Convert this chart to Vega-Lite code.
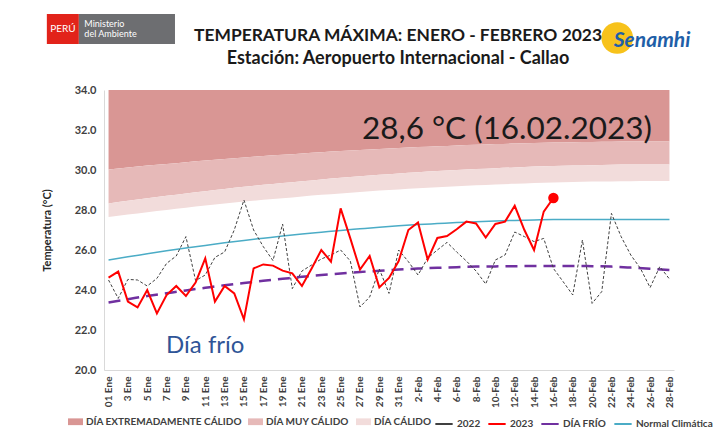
{
  "$schema": "https://vega.github.io/schema/vega-lite/v6.json",
  "width": 570,
  "height": 280,
  "autosize": "none",
  "padding": {"left": 104, "top": 90, "right": 54, "bottom": 64},
  "background": "white",
  "config": {"view": {"stroke": null}, "font": "Lato", "axis": {"labelOverlap": false, "labelFlush": false}},
  "title": {
    "text": "TEMPERATURA MÁXIMA:  ENERO - FEBRERO 2023",
    "subtitle": "Estación: Aeropuerto Internacional - Callao",
    "font": "Lato", "fontSize": 17.4, "fontWeight": "bold", "color": "#1a1a1a",
    "subtitleFont": "Lato", "subtitleFontSize": 18, "subtitleFontWeight": "bold", "subtitleColor": "#1a1a1a",
    "anchor": "middle", "offset": -54, "dx": 9, "subtitlePadding": 6
  },
  "datasets": {
    "curvas": [
      {"dia": 0, "calido": 27.65, "muy": 28.33, "extremo": 30.03, "normal": 25.50, "frio": 23.38},
      {"dia": 2, "calido": 27.77, "muy": 28.46, "extremo": 30.13, "normal": 25.66, "frio": 23.54},
      {"dia": 4, "calido": 27.89, "muy": 28.59, "extremo": 30.22, "normal": 25.81, "frio": 23.70},
      {"dia": 6, "calido": 28.00, "muy": 28.71, "extremo": 30.30, "normal": 25.96, "frio": 23.84},
      {"dia": 8, "calido": 28.11, "muy": 28.83, "extremo": 30.39, "normal": 26.10, "frio": 23.98},
      {"dia": 10, "calido": 28.22, "muy": 28.94, "extremo": 30.47, "normal": 26.23, "frio": 24.11},
      {"dia": 12, "calido": 28.32, "muy": 29.05, "extremo": 30.55, "normal": 26.36, "frio": 24.24},
      {"dia": 14, "calido": 28.42, "muy": 29.16, "extremo": 30.63, "normal": 26.48, "frio": 24.35},
      {"dia": 16, "calido": 28.51, "muy": 29.26, "extremo": 30.70, "normal": 26.59, "frio": 24.46},
      {"dia": 18, "calido": 28.59, "muy": 29.35, "extremo": 30.76, "normal": 26.70, "frio": 24.56},
      {"dia": 20, "calido": 28.68, "muy": 29.44, "extremo": 30.83, "normal": 26.80, "frio": 24.66},
      {"dia": 22, "calido": 28.76, "muy": 29.53, "extremo": 30.89, "normal": 26.89, "frio": 24.75},
      {"dia": 24, "calido": 28.83, "muy": 29.61, "extremo": 30.95, "normal": 26.98, "frio": 24.82},
      {"dia": 26, "calido": 28.90, "muy": 29.69, "extremo": 31.00, "normal": 27.06, "frio": 24.90},
      {"dia": 28, "calido": 28.97, "muy": 29.76, "extremo": 31.05, "normal": 27.14, "frio": 24.96},
      {"dia": 30, "calido": 29.03, "muy": 29.83, "extremo": 31.10, "normal": 27.21, "frio": 25.02},
      {"dia": 32, "calido": 29.09, "muy": 29.89, "extremo": 31.15, "normal": 27.27, "frio": 25.07},
      {"dia": 34, "calido": 29.14, "muy": 29.95, "extremo": 31.19, "normal": 27.32, "frio": 25.11},
      {"dia": 36, "calido": 29.19, "muy": 30.00, "extremo": 31.23, "normal": 27.37, "frio": 25.14},
      {"dia": 38, "calido": 29.24, "muy": 30.05, "extremo": 31.26, "normal": 27.41, "frio": 25.17},
      {"dia": 40, "calido": 29.28, "muy": 30.09, "extremo": 31.30, "normal": 27.45, "frio": 25.18},
      {"dia": 42, "calido": 29.31, "muy": 30.13, "extremo": 31.32, "normal": 27.48, "frio": 25.19},
      {"dia": 44, "calido": 29.35, "muy": 30.17, "extremo": 31.35, "normal": 27.50, "frio": 25.20},
      {"dia": 46, "calido": 29.37, "muy": 30.20, "extremo": 31.37, "normal": 27.52, "frio": 25.20},
      {"dia": 48, "calido": 29.40, "muy": 30.22, "extremo": 31.39, "normal": 27.53, "frio": 25.20},
      {"dia": 50, "calido": 29.42, "muy": 30.24, "extremo": 31.40, "normal": 27.53, "frio": 25.19},
      {"dia": 52, "calido": 29.43, "muy": 30.26, "extremo": 31.41, "normal": 27.53, "frio": 25.17},
      {"dia": 54, "calido": 29.44, "muy": 30.27, "extremo": 31.42, "normal": 27.53, "frio": 25.12},
      {"dia": 56, "calido": 29.45, "muy": 30.28, "extremo": 31.43, "normal": 27.53, "frio": 25.06},
      {"dia": 58, "calido": 29.45, "muy": 30.28, "extremo": 31.43, "normal": 27.53, "frio": 25.00}
    ],
    "diario": [
      {"dia": 0, "t2022": 24.5, "t2023": 24.62},
      {"dia": 1, "t2022": 23.58, "t2023": 24.92},
      {"dia": 2, "t2022": 24.53, "t2023": 23.42},
      {"dia": 3, "t2022": 24.5, "t2023": 23.13},
      {"dia": 4, "t2022": 24.2, "t2023": 24.0},
      {"dia": 5, "t2022": 24.58, "t2023": 22.83},
      {"dia": 6, "t2022": 25.33, "t2023": 23.75},
      {"dia": 7, "t2022": 25.7, "t2023": 24.2},
      {"dia": 8, "t2022": 26.67, "t2023": 23.7},
      {"dia": 9, "t2022": 24.47, "t2023": 24.37},
      {"dia": 10, "t2022": 24.75, "t2023": 25.58},
      {"dia": 11, "t2022": 25.63, "t2023": 23.42},
      {"dia": 12, "t2022": 25.9, "t2023": 24.2},
      {"dia": 13, "t2022": 27.0, "t2023": 23.83},
      {"dia": 14, "t2022": 28.5, "t2023": 22.53},
      {"dia": 15, "t2022": 27.0, "t2023": 25.08},
      {"dia": 16, "t2022": 26.17, "t2023": 25.28},
      {"dia": 17, "t2022": 25.47, "t2023": 25.22},
      {"dia": 18, "t2022": 27.3, "t2023": 24.97},
      {"dia": 19, "t2022": 24.07, "t2023": 24.83},
      {"dia": 20, "t2022": 24.95, "t2023": 24.2},
      {"dia": 21, "t2022": 25.25, "t2023": 25.08},
      {"dia": 22, "t2022": 25.55, "t2023": 26.0},
      {"dia": 23, "t2022": 25.75, "t2023": 25.42},
      {"dia": 24, "t2022": 26.0, "t2023": 28.08},
      {"dia": 25, "t2022": 25.45, "t2023": 26.58},
      {"dia": 26, "t2022": 23.15, "t2023": 25.02},
      {"dia": 27, "t2022": 23.65, "t2023": 25.7},
      {"dia": 28, "t2022": 25.05, "t2023": 24.13},
      {"dia": 29, "t2022": 23.83, "t2023": 24.6},
      {"dia": 30, "t2022": 26.0, "t2023": 25.45},
      {"dia": 31, "t2022": 25.42, "t2023": 27.0},
      {"dia": 32, "t2022": 24.75, "t2023": 27.38},
      {"dia": 33, "t2022": 25.6, "t2023": 25.52},
      {"dia": 34, "t2022": 26.0, "t2023": 26.6},
      {"dia": 35, "t2022": 26.38, "t2023": 26.7},
      {"dia": 36, "t2022": 25.9, "t2023": 27.04},
      {"dia": 37, "t2022": 25.45, "t2023": 27.42},
      {"dia": 38, "t2022": 24.95, "t2023": 27.33},
      {"dia": 39, "t2022": 24.3, "t2023": 26.62},
      {"dia": 40, "t2022": 25.5, "t2023": 27.3},
      {"dia": 41, "t2022": 25.75, "t2023": 27.42},
      {"dia": 42, "t2022": 26.9, "t2023": 28.21},
      {"dia": 43, "t2022": 26.67, "t2023": 27.0},
      {"dia": 44, "t2022": 26.42, "t2023": 26.0},
      {"dia": 45, "t2022": 26.58, "t2023": 27.92},
      {"dia": 46, "t2022": 25.08, "t2023": 28.6},
      {"dia": 47, "t2022": 24.42},
      {"dia": 48, "t2022": 23.75},
      {"dia": 49, "t2022": 26.5},
      {"dia": 50, "t2022": 23.33},
      {"dia": 51, "t2022": 23.92},
      {"dia": 52, "t2022": 27.83},
      {"dia": 53, "t2022": 26.67},
      {"dia": 54, "t2022": 25.75},
      {"dia": 55, "t2022": 25.08},
      {"dia": 56, "t2022": 24.12},
      {"dia": 57, "t2022": 25.17},
      {"dia": 58, "t2022": 24.55}
    ]
  },
  "layer": [
    {
      "data": {"name": "curvas"},
      "mark": {"type": "area", "interpolate": "monotone", "opacity": 1},
      "encoding": {
        "x": {
          "field": "dia", "type": "quantitative",
          "scale": {"domain": [-0.47, 58.47], "nice": false, "zero": false},
          "axis": {
            "title": null, "grid": false, "ticks": false, "tickCount": 60,
            "values": [0, 2, 4, 6, 8, 10, 12, 14, 16, 18, 20, 22, 24, 26, 28, 30, 32, 34, 36, 38, 40, 42, 44, 46, 48, 50, 52, 54, 56, 58],
            "labelExpr": "datum.value <= 30 ? (datum.value == 0 ? '01 Ene' : (datum.value + 1) + ' Ene') : (datum.value - 30) + '-Feb'",
            "labelAngle": 270, "labelAlign": "right", "labelBaseline": "middle",
            "labelFont": "Lato", "labelFontWeight": "bold", "labelFontSize": 10, "labelColor": "#404040",
            "labelPadding": 6, "labelOverlap": false, "labelFlush": false,
            "domainColor": "#d9d9d9", "domainWidth": 1
          }
        },
        "y": {
          "field": "extremo", "type": "quantitative",
          "scale": {"domain": [20, 34], "nice": false, "zero": false},
          "axis": {
            "title": "Temperatura (°C)", "titleFont": "Lato", "titleFontSize": 11, "titleFontWeight": "bold", "titleColor": "#262626",
            "titlePadding": 22,
            "grid": false, "ticks": false, "tickCount": 16, "values": [20, 22, 24, 26, 28, 30, 32, 34], "format": ".1f",
            "labelFont": "Lato", "labelFontWeight": "bold", "labelFontSize": 11, "labelColor": "#404040", "labelPadding": 8,
            "labelOverlap": false, "labelFlush": false,
            "domainColor": "#d9d9d9", "domainWidth": 1
          }
        },
        "y2": {"datum": 34},
        "fill": {
          "datum": "DÍA EXTREMADAMENTE CÁLIDO", "type": "nominal",
          "scale": {
            "domain": ["DÍA EXTREMADAMENTE CÁLIDO", "DÍA MUY CÁLIDO", "DÍA CÁLIDO"],
            "range": ["#d99694", "#e6b9b8", "#f2dcdb"]
          },
          "legend": {
            "title": null, "orient": "none", "legendX": -36, "legendY": 324, "direction": "horizontal",
            "labelFont": "Lato", "labelFontSize": 10, "labelFontWeight": "bold", "labelColor": "#404040", "labelLimit": 0,
            "symbolType": "M-1,-0.45H1V0.45H-1Z", "symbolSize": 225, "symbolStrokeWidth": 0, "symbolOpacity": 1,
            "columnPadding": 6, "labelOffset": 3
          }
        }
      }
    },
    {
      "data": {"name": "curvas"},
      "mark": {"type": "area", "interpolate": "monotone", "opacity": 1},
      "encoding": {
        "x": {"field": "dia", "type": "quantitative"},
        "y": {"field": "muy", "type": "quantitative"},
        "y2": {"field": "extremo"},
        "fill": {"datum": "DÍA MUY CÁLIDO", "type": "nominal"}
      }
    },
    {
      "data": {"name": "curvas"},
      "mark": {"type": "area", "interpolate": "monotone", "opacity": 1},
      "encoding": {
        "x": {"field": "dia", "type": "quantitative"},
        "y": {"field": "calido", "type": "quantitative"},
        "y2": {"field": "muy"},
        "fill": {"datum": "DÍA CÁLIDO", "type": "nominal"}
      }
    },
    {
      "data": {"name": "curvas"},
      "mark": {"type": "line", "interpolate": "monotone", "strokeWidth": 1.5},
      "encoding": {
        "x": {"field": "dia", "type": "quantitative"},
        "y": {"field": "normal", "type": "quantitative"},
        "stroke": {
          "datum": "Normal Climática", "type": "nominal",
          "scale": {
            "domain": ["2022", "2023", "DÍA FRÍO", "Normal Climática"],
            "range": ["#404040", "#ff0000", "#7030a0", "#4bacc6"]
          },
          "legend": {
            "title": null, "orient": "none", "legendX": 330, "legendY": 324, "direction": "horizontal",
            "labelFont": "Lato", "labelFontSize": 10, "labelFontWeight": "bold", "labelColor": "#404040", "labelLimit": 0,
            "symbolType": "stroke", "symbolSize": 300, "symbolStrokeWidth": 2, "symbolOpacity": 1,
            "columnPadding": 3, "labelOffset": 3
          }
        }
      }
    },
    {
      "data": {"name": "curvas"},
      "mark": {"type": "line", "interpolate": "monotone", "strokeWidth": 2.5, "strokeDash": [12, 7]},
      "encoding": {
        "x": {"field": "dia", "type": "quantitative"},
        "y": {"field": "frio", "type": "quantitative"},
        "stroke": {"datum": "DÍA FRÍO", "type": "nominal"}
      }
    },
    {
      "data": {"name": "diario"},
      "mark": {"type": "line", "strokeWidth": 1, "strokeDash": [3, 2]},
      "encoding": {
        "x": {"field": "dia", "type": "quantitative"},
        "y": {"field": "t2022", "type": "quantitative"},
        "stroke": {"datum": "2022", "type": "nominal"}
      }
    },
    {
      "data": {"name": "diario"},
      "mark": {"type": "line", "strokeWidth": 2},
      "encoding": {
        "x": {"field": "dia", "type": "quantitative"},
        "y": {"field": "t2023", "type": "quantitative"},
        "stroke": {"datum": "2023", "type": "nominal"}
      }
    },
    {
      "data": {"name": "diario"},
      "transform": [{"filter": "datum.dia == 46"}],
      "mark": {"type": "point", "filled": true, "size": 110, "color": "#ff0000", "opacity": 1},
      "encoding": {
        "x": {"field": "dia", "type": "quantitative"},
        "y": {"field": "t2023", "type": "quantitative"}
      }
    },
    {
      "data": {"values": [{}]},
      "mark": {"type": "text", "text": "28,6 °C (16.02.2023)", "font": "Lato", "fontSize": 31.5, "color": "#1a1a1a", "align": "center", "baseline": "middle"},
      "encoding": {"x": {"datum": 41.2}, "y": {"datum": 32.0}}
    },
    {
      "data": {"values": [{}]},
      "mark": {"type": "text", "text": "Día frío", "font": "Lato", "fontSize": 24, "color": "#2f5597", "align": "center", "baseline": "middle"},
      "encoding": {"x": {"datum": 10.0}, "y": {"datum": 21.2}}
    },
    {
      "data": {"values": [{}]},
      "mark": {"type": "rect", "color": "#e2231a"},
      "encoding": {"x": {"datum": -6.38}, "x2": {"datum": -3.07}, "y": {"datum": 37.8}, "y2": {"datum": 36.3}}
    },
    {
      "data": {"values": [{}]},
      "mark": {"type": "rect", "color": "#6d6e71"},
      "encoding": {"x": {"datum": -3.07}, "x2": {"datum": 6.87}, "y": {"datum": 37.8}, "y2": {"datum": 36.3}}
    },
    {
      "data": {"values": [{}]},
      "mark": {"type": "text", "text": "PERÚ", "font": "Lato", "fontSize": 10, "color": "white", "align": "center", "baseline": "middle"},
      "encoding": {"x": {"datum": -4.72}, "y": {"datum": 37.05}}
    },
    {
      "data": {"values": [{}]},
      "mark": {"type": "text", "text": ["Ministerio", "del Ambiente"], "font": "Lato", "fontSize": 9, "color": "white", "align": "left", "baseline": "middle", "lineHeight": 10},
      "encoding": {"x": {"datum": -2.5}, "y": {"datum": 37.3}}
    },
    {
      "data": {"values": [{}]},
      "mark": {"type": "point", "shape": "circle", "filled": true, "size": 1000, "color": "#f7c21b", "opacity": 1},
      "encoding": {"x": {"datum": 52.6}, "y": {"datum": 36.6}}
    },
    {
      "data": {"values": [{}]},
      "mark": {"type": "text", "text": "Senamhi", "font": "Lato", "fontSize": 21, "fontWeight": "bold", "fontStyle": "italic", "color": "#1f5fa8", "align": "center", "baseline": "middle"},
      "encoding": {"x": {"datum": 56.2}, "y": {"datum": 36.45}}
    }
  ]
}
